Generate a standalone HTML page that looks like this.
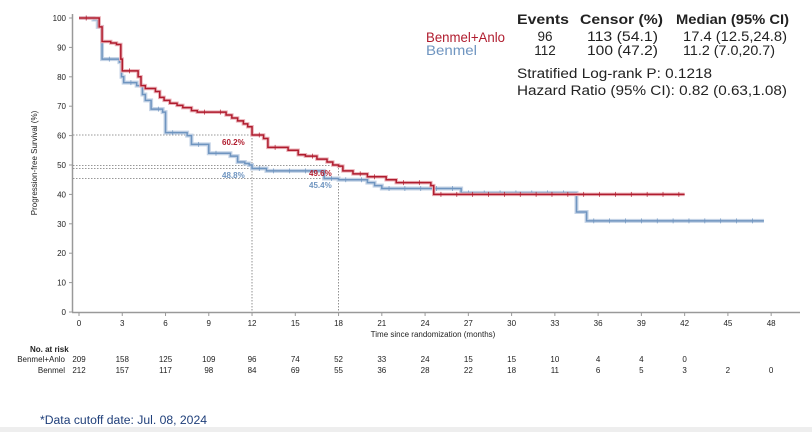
<!DOCTYPE html>
<html><head><meta charset="utf-8"><style>
html,body{margin:0;padding:0;background:#fff;width:812px;height:432px;overflow:hidden}
svg{display:block;font-family:"Liberation Sans",Arial,sans-serif}
</style></head><body>
<svg id="s" width="812" height="432" viewBox="0 0 812 432">
<rect x="0" y="427" width="812" height="5" fill="#eeeeee"/>
<line x1="72.5" y1="14" x2="72.5" y2="312" stroke="#999" stroke-width="1.5"/>
<line x1="72" y1="312.5" x2="800" y2="312.5" stroke="#999" stroke-width="1.5"/>
<g id="yt" font-size="8" fill="#222" text-anchor="end"></g>
<g id="xt" font-size="8" fill="#222" text-anchor="middle"></g>
<text transform="translate(37,163) rotate(-90)" font-size="8" text-anchor="middle" fill="#222">Progression-free Survival (%)</text>
<text x="433" y="337" font-size="8" text-anchor="middle" fill="#222">Time since randomization (months)</text>
<g stroke="#777" stroke-width="0.8" stroke-dasharray="1.5,1.5" fill="none">
<line x1="73" y1="135" x2="252" y2="135"/>
<line x1="73" y1="165.5" x2="338" y2="165.5"/>
<line x1="73" y1="168.5" x2="252" y2="168.5"/>
<line x1="73" y1="178.5" x2="338" y2="178.5"/>
<line x1="252" y1="135" x2="252" y2="312"/>
<line x1="338.5" y1="165" x2="338.5" y2="312"/>
</g>
<g id="curves"></g>
<text x="222" y="145" font-size="8" font-weight="bold" fill="#b01c2e">60.2%</text>
<text x="222" y="178" font-size="8" font-weight="bold" fill="#6f95c0">48.8%</text>
<text x="309" y="176" font-size="8" font-weight="bold" fill="#b01c2e">49.6%</text>
<text x="309" y="188" font-size="8" font-weight="bold" fill="#6f95c0">45.4%</text>
<g font-size="13.5" fill="#222" lengthAdjust="spacingAndGlyphs">
<text x="517" y="24" font-weight="bold" textLength="52" lengthAdjust="spacingAndGlyphs">Events</text>
<text x="580" y="24" font-weight="bold" textLength="83" lengthAdjust="spacingAndGlyphs">Censor (%)</text>
<text x="676" y="24" font-weight="bold" textLength="113" lengthAdjust="spacingAndGlyphs">Median (95% CI)</text>
<text x="426" y="42" fill="#b01c2e" textLength="79" lengthAdjust="spacingAndGlyphs">Benmel+Anlo</text>
<text x="426" y="55" fill="#6f95c0" textLength="51" lengthAdjust="spacingAndGlyphs">Benmel</text>
<text x="545" y="41" text-anchor="middle">96</text>
<text x="545" y="55" text-anchor="middle">112</text>
<text x="587" y="41" textLength="71" lengthAdjust="spacingAndGlyphs">113 (54.1)</text>
<text x="587" y="55" textLength="71" lengthAdjust="spacingAndGlyphs">100 (47.2)</text>
<text x="683" y="41" textLength="104" lengthAdjust="spacingAndGlyphs">17.4 (12.5,24.8)</text>
<text x="683" y="55" textLength="92" lengthAdjust="spacingAndGlyphs">11.2 (7.0,20.7)</text>
<text x="517" y="78" textLength="195" lengthAdjust="spacingAndGlyphs">Stratified Log-rank P: 0.1218</text>
<text x="517" y="95" textLength="270" lengthAdjust="spacingAndGlyphs">Hazard Ratio (95% CI): 0.82 (0.63,1.08)</text>
</g>
<text x="30" y="352" font-size="8" font-weight="bold" fill="#222">No. at risk</text>
<text x="65" y="362" font-size="8" text-anchor="end" fill="#222">Benmel+Anlo</text>
<text x="65" y="373" font-size="8" text-anchor="end" fill="#222">Benmel</text>
<g id="risk" font-size="8" fill="#222" text-anchor="middle"></g>
<text x="40" y="424" font-size="11.5" fill="#1f3f7a" textLength="167" lengthAdjust="spacingAndGlyphs">*Data cutoff  date: Jul. 08, 2024</text>
</svg>
<script>
var NS="http://www.w3.org/2000/svg";
function X(t){return 79+t*14.42}
function Y(v){return 312-2.94*v}
function el(p,tag,a,txt){var e=document.createElementNS(NS,tag);for(var k in a)e.setAttribute(k,a[k]);if(txt!==undefined)e.textContent=txt;document.getElementById(p).appendChild(e);return e}
for(var v=0;v<=100;v+=10){el("yt","text",{x:66,y:Y(v)+3},v);el("yt","line",{x1:69,x2:72,y1:Y(v),y2:Y(v),stroke:"#999"});}
for(var t=0;t<=48;t+=3){el("xt","text",{x:X(t),y:326},t);el("xt","line",{x1:X(t),x2:X(t),y1:312,y2:316,stroke:"#999"});}
var red=[[0,100],[1.4,97],[1.6,92],[2.2,91.5],[2.6,91],[2.9,86],[3,82],[4.1,80],[4.3,77],[4.6,76],[5.3,75],[5.6,73],[5.9,72],[6.3,71],[6.8,70.3],[7.2,69.5],[7.8,68.5],[8.2,68],[10.2,67],[10.6,66],[11,65],[11.4,64],[11.7,63],[12,60.2],[12.8,59],[13.1,56],[14.5,55],[15.2,53.5],[15.7,53],[16.5,52],[17.2,51],[17.6,50],[18,49.6],[18.3,48],[19,47],[20,46],[21.3,45],[22,44],[24.4,43],[24.6,40],[42,40]];
var blue=[[0,100],[1,99.5],[1.3,97],[1.6,86],[2.8,85],[2.95,80],[3.1,78],[4,77],[4.4,74],[4.6,72],[5,69],[5.8,68],[6,61],[7.5,60],[7.8,57],[9,54],[10.5,53],[11,51],[11.5,50.5],[11.8,50],[12,48.8],[13,48],[17,45.4],[18,45],[20,44],[20.5,43],[21,42],[26.5,40.5],[34.5,34],[35.2,31],[47.5,31]];
function path(d){var s="M"+X(d[0][0])+","+Y(d[0][1]);for(var i=1;i<d.length;i++){s+="H"+X(d[i][0])+"V"+Y(d[i][1]);}return s}
function cens(d,col){for(var i=0;i<d.length-1;i++){var a=d[i][0],b=d[i+1][0];for(var t=a+0.5;t<b-0.2;t+=1.1){el("curves","line",{x1:X(t),x2:X(t),y1:Y(d[i][1])-2.5,y2:Y(d[i][1])+2.5,stroke:col,"stroke-width":0.7});}}}
el("curves","path",{d:path(blue),stroke:"#c4d3e6",fill:"none","stroke-width":4});
el("curves","path",{d:path(blue),stroke:"#6f95c0",fill:"none","stroke-width":1.5});
cens(blue,"#6f95c0");
el("curves","path",{d:path(red),stroke:"#ebb3ba",fill:"none","stroke-width":3.5});
el("curves","path",{d:path(red),stroke:"#b01c2e",fill:"none","stroke-width":1.5});
cens(red,"#b01c2e");
var r1=[209,158,125,109,96,74,52,33,24,15,15,10,4,4,0];
var r2=[212,157,117,98,84,69,55,36,28,22,18,11,6,5,3,2,0];
r1.forEach(function(n,i){el("risk","text",{x:X(i*3),y:362},n)});
r2.forEach(function(n,i){el("risk","text",{x:X(i*3),y:373},n)});
</script>
</body></html>
